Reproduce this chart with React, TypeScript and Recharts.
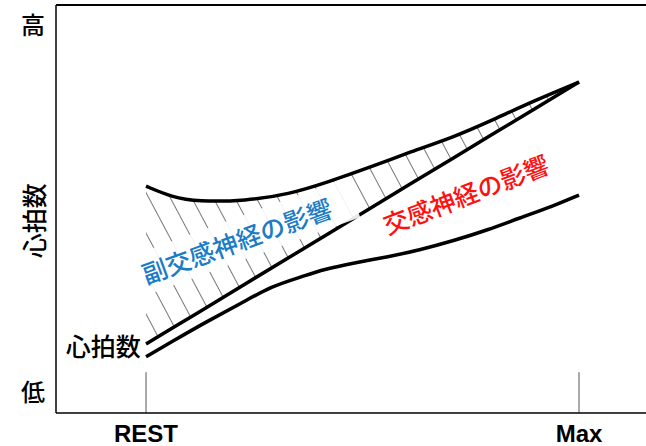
import { ComposedChart, Line, Area, XAxis, YAxis, ReferenceLine, ReferenceDot } from 'recharts';

// x: 0 = REST, 100 = Max ; y: 0 = 低, 100 = 高
const xs = [0, 6, 12, 23, 33, 42, 52, 61, 71, 80, 90, 100];
const upperHR = [55.6, 52.9, 51.8, 52.0, 53.6, 56.6, 60.3, 64.0, 67.6, 71.8, 76.7, 81.1];
const heartRate = [16.9, 20.8, 24.6, 31.7, 38.1, 43.9, 50.3, 56.1, 62.5, 68.3, 74.7, 81.1];

const lowerXs = [0, 6, 14, 22, 29, 36, 41, 48, 56, 63, 71, 79, 86, 94, 100];
const lowerHR = [13.8, 17.5, 22.4, 26.9, 31.1, 33.4, 35.2, 36.8, 38.3, 39.9, 42.2, 44.9, 47.7, 50.7, 53.4];

const xTicks = [0, 100];
const xTickLabels = ['REST', 'Max'];
const yTicks = [5, 95];
const yTickLabels = ['低', '高'];

const data = xs.map((x, i) => ({
  x,
  upper: upperHR[i],
  hr: heartRate[i],
  band: [heartRate[i], upperHR[i]],
}));
const lowerData = lowerXs.map((x, i) => ({ x, lower: lowerHR[i] }));

const jp = '"Noto Sans CJK JP", "Noto Sans", sans-serif';

const XTick = ({ x, y, payload }: any) => (
  <text x={x} y={y + 27} textAnchor="middle" fontFamily='"Liberation Sans", Arial, sans-serif'
    fontWeight="bold" fontSize={24} fill="#000">
    {xTickLabels[xTicks.indexOf(payload.value)]}
  </text>
);

const YTick = ({ y, payload }: any) => (
  <text x={33} y={y - 2} textAnchor="middle" dominantBaseline="central" fontFamily={jp} fontWeight={500}
    fontSize={24} fill="#000">
    {yTickLabels[yTicks.indexOf(payload.value)]}
  </text>
);

const rotatedText = (text: string, color: string, angle: number, box: boolean) => (props: any) => {
  const { viewBox } = props;
  const cx = viewBox.x + viewBox.width / 2;
  const cy = viewBox.y + viewBox.height / 2;
  return (
    <g transform={`rotate(${angle} ${cx} ${cy})`}>
      {box && <rect x={cx - 124} y={cy - 21} width={248} height={42} fill="#fff" fillOpacity={0.9} />}
      <text x={cx} y={cy} textAnchor="middle" dominantBaseline="central" fontFamily={jp} fontWeight={500}
        fontSize={25} fill={color}>
        {text}
      </text>
    </g>
  );
};

export default function App() {
  return (
    <div style={{ position: 'absolute', left: 0, top: 0, background: '#fff' }}>
      <ComposedChart width={646} height={446} data={data} margin={{ top: 5, right: 0, bottom: 0, left: 0 }}>
        <defs>
          <pattern id="hatch" patternUnits="userSpaceOnUse" width={19} height={19} patternTransform="rotate(-28)">
            <line x1={0.5} y1={0} x2={0.5} y2={19} stroke="#777" strokeWidth={1} />
          </pattern>
        </defs>
        <XAxis dataKey="x" type="number" domain={[-20.79, 115.47]} ticks={xTicks} allowDataOverflow
          tick={<XTick />} tickLine={false} tickSize={0} height={33} axisLine={{ stroke: '#000', strokeWidth: 1.5 }} />
        <YAxis type="number" domain={[0, 100]} ticks={yTicks} tick={<YTick />} tickLine={false} width={56}
          axisLine={{ stroke: '#000', strokeWidth: 1.5 }} />
        <ReferenceLine y={100} stroke="#000" strokeWidth={2} ifOverflow="visible" />
        <ReferenceLine segment={[{ x: 0, y: 0 }, { x: 0, y: 10 }]} stroke="#555" strokeWidth={1} />
        <ReferenceLine segment={[{ x: 100, y: 0 }, { x: 100, y: 10 }]} stroke="#555" strokeWidth={1} />
        <Area type="basis" dataKey="band" stroke="none" fill="url(#hatch)" fillOpacity={1} isAnimationActive={false} />
        <ReferenceDot x={20.9} y={42.4} r={0} fill="none" stroke="none"
          label={rotatedText('副交感神経の影響', '#1b7cc6', -20, true)} />
        <ReferenceDot x={73.8} y={53.8} r={0} fill="none" stroke="none"
          label={rotatedText('交感神経の影響', '#ff1010', -21, false)} />
        <ReferenceDot x={-9.9} y={16.7} r={0} fill="none" stroke="none"
          label={rotatedText('心拍数', '#000', 0, false)} />
        <ReferenceDot x={-20.79} y={47.1} r={0} fill="none" stroke="none" ifOverflow="visible"
          label={(props: any) => (
            <text x={33} y={props.viewBox.y} textAnchor="middle" dominantBaseline="central" fontFamily={jp}
              fontWeight={500} fontSize={25} fill="#000" transform={`rotate(-90 33 ${props.viewBox.y})`}>心拍数</text>
          )} />
        <Line type="basis" dataKey="upper" stroke="#000" strokeWidth={3.5} dot={false} isAnimationActive={false} />
        <Line type="linear" dataKey="hr" stroke="#000" strokeWidth={3.5} dot={false} isAnimationActive={false} />
        <Line type="basis" data={lowerData} dataKey="lower" stroke="#000" strokeWidth={3.5} dot={false}
          isAnimationActive={false} />
      </ComposedChart>
    </div>
  );
}
